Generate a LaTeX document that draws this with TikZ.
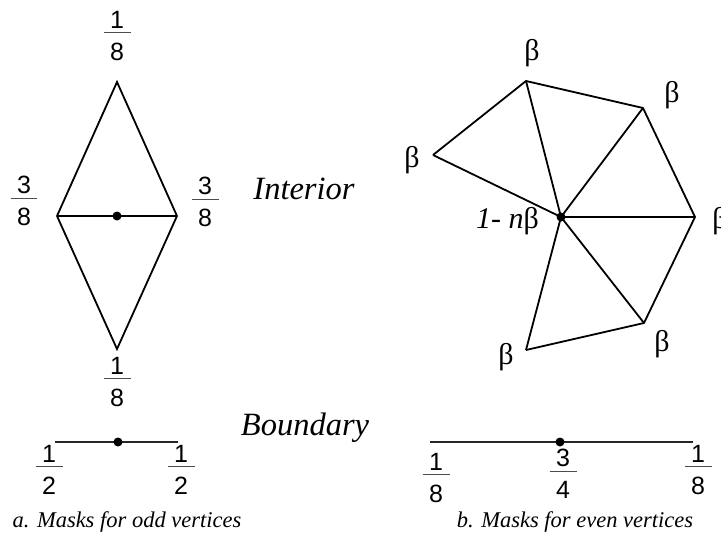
\documentclass[tikz,border=0pt]{standalone}
\usepackage{fontspec}
\setmainfont{Liberation Serif}
\newfontfamily\digitfont{Liberation Sans}
\definecolor{barcol}{gray}{0.3}
\newcommand\fr[3][27pt]{\vbox{\offinterlineskip\hbox to #1{\hss#2\hss}\kern4pt\hbox{\textcolor{barcol}{\rule{#1}{0.9pt}}}\kern10pt\hbox to #1{\hss#3\hss}}}
\begin{document}
\begin{tikzpicture}[x=1pt,y=-1pt,
  edge/.style={line width=1.8pt},
  midedge/.style={line width=2.5pt},
  bline/.style={line width=1.7pt,black!85},
  frac/.style={inner sep=0pt,font=\digitfont\fontsize{25}{25}\selectfont},
  lbl/.style={inner sep=0pt,font=\itshape\fontsize{32.5}{36}\selectfont},
  captext/.style={inner sep=0pt,font=\itshape\fontsize{22.5}{26}\selectfont},
  betalbl/.style={inner sep=0pt,font=\fontsize{30}{32}\selectfont},
  vdot/.style={circle,fill=black,inner sep=0pt,minimum size=9pt}]
\useasboundingbox (0,0) rectangle (721,538);
% ---- left diamond (odd, interior)
\coordinate (dt) at (117,82);
\coordinate (dl) at (57,216);
\coordinate (dr) at (177,216);
\coordinate (db) at (117,349);
\node[vdot] (dc) at (117,216) {};
\draw[edge] (dl) -- (dt) -- (dr);
\draw[edge] (dl) -- (db) -- (dr);
\draw[midedge] (dl) -- (dr);
\node[frac] (ft) at (117,36) {\fr{1}{8}};
\node[frac] (fl) at (24,201) {\fr{3}{8}};
\node[frac] (fr) at (205,202) {\fr{3}{8}};
\node[frac] (fb) at (117,382) {\fr{1}{8}};
% ---- left boundary
\coordinate (bl) at (55,442);
\coordinate (br) at (178,442);
\draw[bline] (bl) -- (br);
\node[vdot] (bc) at (118,442) {};
\node[frac] (fbl) at (49,470) {\fr{1}{2}};
\node[frac] (fbr) at (181,470) {\fr{1}{2}};
% ---- labels
\node[lbl] (interior) at (304,189) {Interior};
\node[lbl] (boundary) at (305,428) {Boundary};
\node[captext] (capa) at (127,522) {a. Masks for odd vertices};
\node[captext] (capb) at (575,522) {b. Masks for even vertices};
% ---- right fan (even, interior)
\node[vdot] (c) at (561,217) {};
\coordinate (v1) at (433,155);
\coordinate (v2) at (526,81);
\coordinate (v3) at (643,108);
\coordinate (v4) at (695,217);
\coordinate (v5) at (644,323);
\coordinate (v6) at (526,350);
\draw[edge,line join=round] (v1) -- (v2) -- (v3) -- (v4) -- (v5) -- (v6);
\foreach \v in {v1,v2,v3,v4,v5,v6} \draw[edge] (c.center) -- (\v);
\node[betalbl] (b1) at (412,160) {β};
\node[betalbl] (b2) at (532,53) {β};
\node[betalbl] (b3) at (672,95) {β};
\node[betalbl] (b4) at (720,221) {β};
\node[betalbl] (b5) at (662,344) {β};
\node[betalbl] (b6) at (506,357) {β};
\node[betalbl,anchor=east] (cl) at (539,221) {{\itshape 1- n}β};
% ---- right boundary
\coordinate (el) at (430,442);
\coordinate (er) at (693,442);
\draw[bline] (el) -- (er);
\node[vdot] (ec) at (560,442) {};
\node[frac] (fel) at (436,478) {\fr{1}{8}};
\node[frac] (fem) at (563,474) {\fr{3}{4}};
\node[frac] (fer) at (698,470) {\fr{1}{8}};
\end{tikzpicture}
\end{document}
